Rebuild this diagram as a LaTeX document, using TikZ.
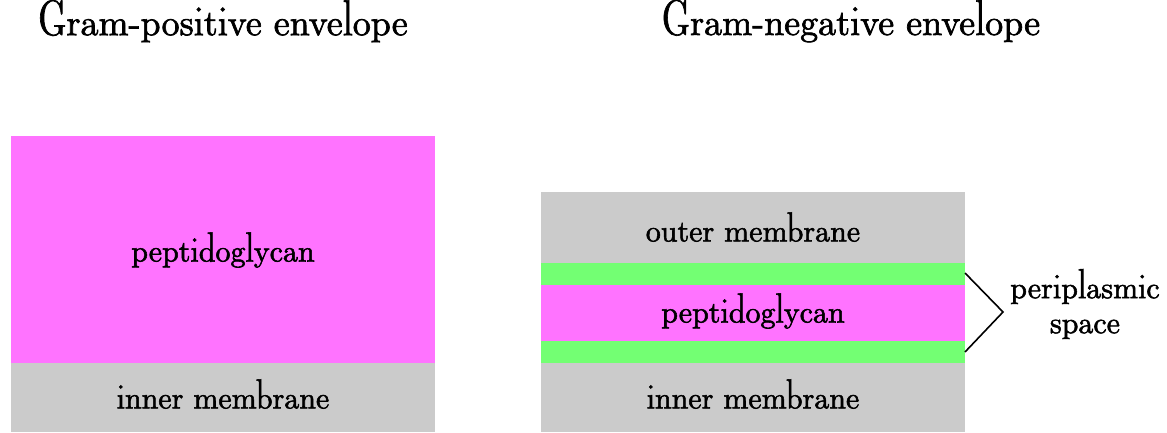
\documentclass[tikz,border=0pt]{standalone}
\usepackage{fontspec}
\setmainfont{lmromandunh10-regular.otf}[BoldFont=lmromandunh10-regular.otf,BoldFeatures={FakeBold=1.8}]
\tikzset{
  lbl/.style={font=\bfseries\fontsize{30}{35}\selectfont},
  ttl/.style={font=\bfseries\fontsize{36}{40}\selectfont},
}
\definecolor{pgcol}{RGB}{255,115,255}
\definecolor{perispace}{RGB}{115,255,115}
\definecolor{memb}{RGB}{203,203,203}
\begin{document}
\begin{tikzpicture}[x=1pt,y=-1pt]
\useasboundingbox (0,0) rectangle (1167,432);
% Gram-positive
\fill[pgcol] (11,136) rectangle (435,363);
\fill[memb] (11,363) rectangle (435,432);
\node[lbl] (pgA) at (223,250) {peptidoglycan};
\node[lbl] (imA) at (223,394) {inner membrane};
\node[ttl] (tA) at (223,21) {Gram-positive envelope};
% Gram-negative
\fill[memb] (541,192) rectangle (965,263);
\fill[perispace] (541,263) rectangle (965,285);
\fill[pgcol] (541,285) rectangle (965,341);
\fill[perispace] (541,341) rectangle (965,363);
\fill[memb] (541,363) rectangle (965,432);
\node[lbl] (om) at (753,227) {outer membrane};
\node[lbl] (pgB) at (753,311) {peptidoglycan};
\node[lbl] (imB) at (753,394) {inner membrane};
\node[ttl] (tB) at (851,21) {Gram-negative envelope};
% bracket for the periplasmic space
\coordinate (b1) at (965,273);
\coordinate (b2) at (1003,312);
\coordinate (b3) at (965,352);
\draw[line width=1.6pt] (b1) -- (b2) -- (b3);
\node[lbl,align=center] (peri) at (1085,304) {periplasmic\\space};
\end{tikzpicture}
\end{document}
